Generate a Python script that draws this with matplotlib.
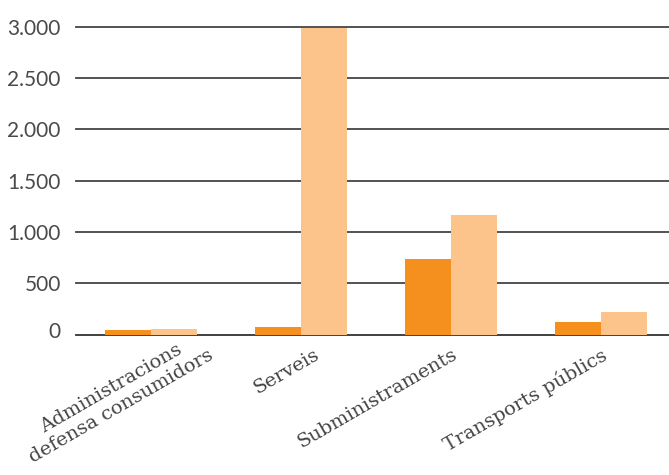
import numpy as np
import matplotlib
matplotlib.use("Agg")
import matplotlib.pyplot as plt
import matplotlib.transforms as mtransforms

# data
categories = ["Administracions\ndefensa consumidors", "Serveis",
              "Subministraments", "Transports públics"]
serie_a = [44, 73, 736, 122]      # dark orange
serie_b = [54, 2995, 1165, 219]   # light orange
yticks = [0, 500, 1000, 1500, 2000, 2500, 3000]
ytick_labels = ["0", "500", "1.000", "1.500", "2.000", "2.500", "3.000"]

fig = plt.figure(figsize=(6.69, 4.75), dpi=100)
ax = fig.add_axes([76 / 669, (475 - 334.5) / 475, 1 - 76 / 669, (334.5 - 27) / 475])

x = np.arange(len(categories))
w = 0.307
ax.bar(x - w / 2, serie_a, width=w, color="#F5901E", zorder=3)
ax.bar(x + w / 2, serie_b, width=w, color="#FCC48A", zorder=3)

ax.set_xlim(-0.5, 3.453)
ax.set_ylim(0, 3000)

# horizontal grid lines
for yv in yticks:
    ax.axhline(yv, color="#444444" if yv else "#333333", lw=1.3, zorder=1, clip_on=False)

for s in ax.spines.values():
    s.set_visible(False)

ax.set_yticks(yticks)
ax.set_yticklabels(ytick_labels, fontsize=15, color="#4a4a4a", family="Lato")
ax.tick_params(axis="y", length=0, pad=11)
# zero label sits a bit above its line
zl = ax.get_yticklabels()[0]
zl.set_transform(zl.get_transform() + mtransforms.ScaledTranslation(0, 5 / 100, fig.dpi_scale_trans))

ax.set_xticks(x)
ax.set_xticklabels(categories, rotation=30, ha="right", va="top",
                   rotation_mode="anchor", multialignment="center",
                   fontsize=14, family="DejaVu Serif", color="#444444")
ax.tick_params(axis="x", length=0, pad=8)

# nudge some category labels like in the original
shifts = {0: (46, 17), 1: (12, 0)}
for i, lab in enumerate(ax.get_xticklabels()):
    if i in shifts:
        dx, dy = shifts[i]
        lab.set_transform(lab.get_transform()
                          + mtransforms.ScaledTranslation(dx / 100, dy / 100, fig.dpi_scale_trans))

fig.savefig("out.png", dpi=100)
